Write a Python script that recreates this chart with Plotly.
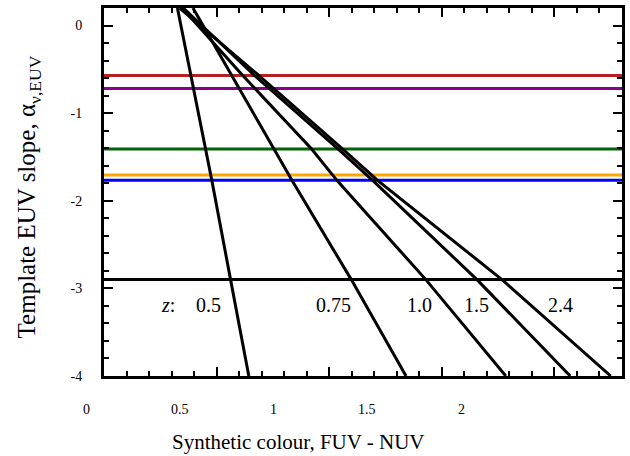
import plotly.graph_objects as go

# Colour (FUV - NUV) of each redshift track, read at fixed EUV-slope levels
alpha_levels = [0.2, -0.55, -1.41, -1.77, -2.9, -4.0]
track_z = ["0.5", "0.75", "1.0", "1.5", "2.4"]
colour_z05 = [0.326, 0.385, 0.451, 0.479, 0.562, 0.643]
colour_z075 = [0.395, 0.562, 0.757, 0.835, 1.098, 1.341]
colour_z10 = [0.347, 0.609, 0.922, 1.035, 1.429, 1.784]
colour_z15 = [0.352, 0.66, 1.04, 1.194, 1.656, 2.07]
colour_z24 = [0.336, 0.678, 1.06, 1.216, 1.767, 2.25]
tracks = [colour_z05, colour_z075, colour_z10, colour_z15, colour_z24]

# Template EUV slopes (horizontal reference lines)
template_alpha = [-0.57, -0.72, -1.41, -1.705, -1.767, -2.9]
template_colours = ["#B22222", "#8B008B", "#006400", "#FFA500", "#0000FF", "#000000"]

# Redshift labels along the tracks
label_x = [0.465, 1.021, 1.40, 1.656, 2.029]
label_alpha = -3.19

x_range = [0, 2.3]
y_range = [-4, 0.2]
x_ticks = [0, 0.5, 1, 1.5, 2]
x_ticktext = ["0", "0.5", "1", "1.5", "2"]
y_ticks = [0, -1, -2, -3, -4]
y_ticktext = ["0", "-1", "-2", "-3", "-4"]

FONT = "Liberation Serif"

fig = go.Figure()

for a, c in zip(template_alpha, template_colours):
    fig.add_trace(go.Scatter(x=x_range, y=[a, a], mode="lines",
                             line=dict(color=c, width=3), hoverinfo="skip"))

for col in tracks:
    fig.add_trace(go.Scatter(x=col, y=alpha_levels, mode="lines",
                             line=dict(color="black", width=3), hoverinfo="skip"))

annotations = []
annotations.append(dict(x=0.284, y=label_alpha, xref="x", yref="y", text="<i>z</i>:",
                        showarrow=False, font=dict(family=FONT, size=20, color="black")))
for lx, lz in zip(label_x, track_z):
    annotations.append(dict(x=lx, y=label_alpha, xref="x", yref="y", text=lz,
                            showarrow=False, font=dict(family=FONT, size=20, color="black")))

# x tick labels, set on their own spacing below the frame
plot_left, plot_width, plot_bottom, plot_height = 104, 521, 376, 368
label_origin_px, label_px_per_unit = 86.7, 188.2
for v, t in zip(x_ticks, x_ticktext):
    px = label_origin_px + v * label_px_per_unit
    annotations.append(dict(x=(px - plot_left) / plot_width, y=-(409 - plot_bottom) / plot_height,
                            xref="paper", yref="paper",
                            text=t, showarrow=False, xanchor="center", yanchor="middle",
                            font=dict(family=FONT, size=14, color="black")))

annotations.append(dict(x=(300 - plot_left) / plot_width, y=-(442 - plot_bottom) / plot_height,
                        xref="paper", yref="paper",
                        text="Synthetic colour, FUV - NUV", showarrow=False,
                        xanchor="center", yanchor="middle",
                        font=dict(family=FONT, size=21, color="black")))
annotations.append(dict(x=(28 - plot_left) / plot_width, y=(plot_bottom - 197) / plot_height,
                        xref="paper", yref="paper",
                        text="Template EUV slope, \u03b1<sub>\u03bd,EUV</sub>",
                        textangle=-90,
                        showarrow=False, xanchor="center", yanchor="middle",
                        font=dict(family=FONT, size=25, color="black")))

axis_common = dict(showline=True, linewidth=3, linecolor="black", mirror="allticks",
                   ticks="inside", tickcolor="black", tickwidth=2, ticklen=9,
                   showgrid=False, zeroline=False)

fig.update_layout(
    width=630, height=456,
    margin=dict(l=104, r=5, t=8, b=80),
    plot_bgcolor="white", paper_bgcolor="white",
    showlegend=False,
    font=dict(family=FONT, color="black"),
    xaxis=dict(range=x_range, tickvals=x_ticks, showticklabels=False,
               minor=dict(dtick=0.1, ticks="inside", ticklen=5, tickwidth=2,
                          tickcolor="black", showgrid=False),
               **axis_common),
    yaxis=dict(range=y_range, tickvals=y_ticks, ticktext=y_ticktext,
               tickfont=dict(family=FONT, size=14, color="black"),
               ticklabelstandoff=16,
               minor=dict(dtick=0.2, ticks="inside", ticklen=5, tickwidth=2,
                          tickcolor="black", showgrid=False),
               **axis_common),
    annotations=annotations,
)

fig.write_html("out.html")
